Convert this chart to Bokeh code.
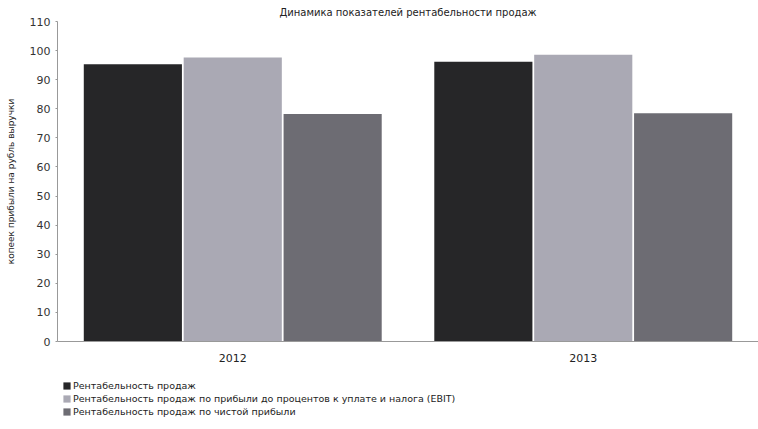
from bokeh.plotting import figure
from bokeh.layouts import column
from bokeh.models import ColumnDataSource, FactorRange, Legend, LegendItem, FixedTicker
from bokeh.transform import dodge
from bokeh.embed import file_html
from bokeh.resources import INLINE

title_text = "Динамика показателей рентабельности продаж"
y_label = "копеек прибыли на рубль выручки"
years = ["2012", "2013"]
series_names = [
    "Рентабельность продаж",
    "Рентабельность продаж по прибыли до процентов к уплате и налога (EBIT)",
    "Рентабельность продаж по чистой прибыли",
]
sales_margin = [95.3, 96.2]
ebit_margin = [97.6, 98.6]
net_margin = [78.2, 78.5]
y_ticks = list(range(0, 111, 10))

colors = ["#262628", "#aaa9b4", "#6d6c73"]
FONT = "DejaVu Sans"

src = ColumnDataSource(dict(year=years, s1=sales_margin, s2=ebit_margin, s3=net_margin))

p = figure(x_range=FactorRange(*years, range_padding=0), y_range=(0, 110),
           width=758, height=370, output_backend="svg", toolbar_location=None,
           min_border_left=57, min_border_right=0, min_border_top=19, min_border_bottom=29)
p.outline_line_color = None
p.background_fill_color = "white"
p.xgrid.grid_line_color = None
p.ygrid.grid_line_color = None

p.title.text = title_text
p.title.text_font = FONT
p.title.text_font_size = "10px"
p.title.text_font_style = "normal"
p.title.text_color = "#222222"
p.title.align = "center"
p.title.offset = 0
p.title.standoff = 8

offsets = [-0.285, 0.0, 0.285]
for key, off, c in zip(["s1", "s2", "s3"], offsets, colors):
    p.vbar(x=dodge("year", off, range=p.x_range), top=key, width=0.28, source=src,
           fill_color=c, line_color=None)

p.yaxis.ticker = FixedTicker(ticks=y_ticks)
p.yaxis.axis_label = y_label
p.yaxis.axis_label_text_font = FONT
p.yaxis.axis_label_text_font_size = "9px"
p.yaxis.axis_label_text_font_style = "normal"
p.yaxis.axis_label_text_color = "#222222"
p.yaxis.axis_label_standoff = 11
p.yaxis.major_label_text_font = FONT
p.yaxis.major_label_text_font_size = "11px"
p.yaxis.major_label_text_color = "#333333"
p.yaxis.axis_line_color = "#999999"
p.yaxis.major_tick_line_color = "#999999"
p.yaxis.major_tick_in = 0
p.yaxis.major_tick_out = 2
p.yaxis.minor_tick_line_color = None

p.xaxis.major_label_text_font = FONT
p.xaxis.major_label_text_font_size = "11px"
p.xaxis.major_label_text_color = "#222222"
p.xaxis.axis_line_color = "#999999"
p.xaxis.major_tick_line_color = None
p.xaxis.minor_tick_line_color = None
p.xaxis.major_label_standoff = 6

# legend panel as a separate strip below the chart
lg = figure(width=758, height=59, x_range=(0, 1), y_range=(0, 1),
            output_backend="svg", toolbar_location=None,
            x_axis_location=None, y_axis_location=None,
            min_border_left=0, min_border_right=0, min_border_top=0, min_border_bottom=0)
lg.outline_line_color = None
lg.xgrid.grid_line_color = None
lg.ygrid.grid_line_color = None
items = []
for n, c in zip(series_names, colors):
    r = lg.vbar(x=[5], top=[5], bottom=[4], width=0.1, fill_color=c, line_color=None)
    items.append(LegendItem(label=n, renderers=[r]))

legend = Legend(items=items, location=(5, 12), orientation="vertical")
legend.label_text_font = FONT
legend.label_text_font_size = "9.5px"
legend.label_text_color = "#222222"
legend.glyph_width = 9
legend.glyph_height = 9
legend.label_height = 10
legend.label_standoff = 2
legend.spacing = 2
legend.padding = 0
legend.margin = 0
legend.border_line_color = None
legend.background_fill_alpha = 0
lg.add_layout(legend, "center")

layout = column(p, lg, spacing=0)
open("out.html", "w").write(file_html(layout, INLINE))
